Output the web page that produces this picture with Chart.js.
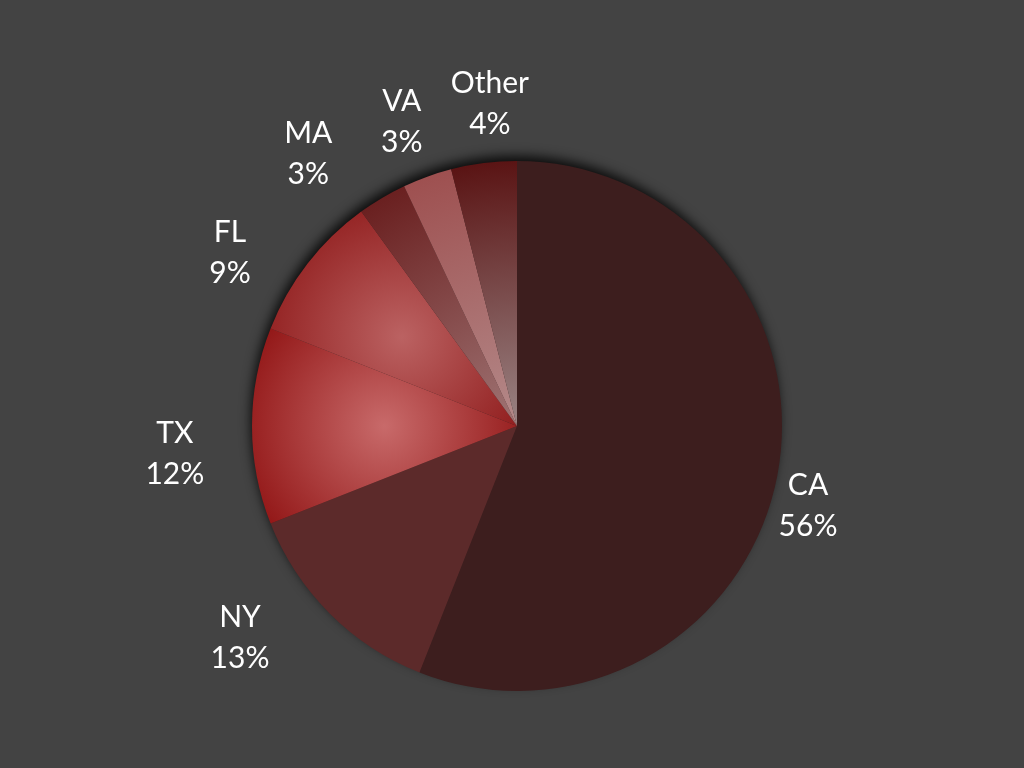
<!DOCTYPE html>
<html>
<head>
<meta charset="utf-8">
<script src="https://cdn.jsdelivr.net/npm/chart.js@4"></script>
<style>
  html, body { margin: 0; padding: 0; background: #434343; }
  #wrap { width: 1024px; height: 768px; }
</style>
</head>
<body>
<div id="wrap"><canvas id="pie" width="1024" height="768"></canvas></div>
<script>
// data
const states = ['CA', 'NY', 'TX', 'FL', 'MA', 'VA', 'Other'];
const shares = [56, 13, 12, 9, 3, 3, 4];

// slice look: outer colour, inner colour (same = flat)
const outerColors = ['#3d1e1e', '#5c2a2a', '#8e1010', '#8c1616', '#6a2020', '#9e5050', '#5a1414'];
const innerColors = ['#3d1e1e', '#5c2a2a', '#c86a6a', '#bb6262', '#a07575', '#b48a8a', '#9a8484'];
// gradient centre along the mid angle (fraction of radius)
const gradCenter = [0, 0, 0.5, 0.55, 0, 0, 0];
// label placement: distance (fraction of radius) and nudge off the mid angle (degrees)
const labelDist = [1.138, 1.314, 1.295, 1.266, 1.297, 1.23, 1.223];
const labelNudge = [4.4, 7.7, -4.5, -6.6, -6.8, -0.9, 2.4];

const shadowPlugin = {
    id: 'shadow',
    beforeDatasetsDraw(chart) {
        const arc = chart.getDatasetMeta(0).data[0];
        if (!arc) return;
        const ctx = chart.ctx;
        ctx.save();
        ctx.shadowColor = 'rgba(0,0,0,0.85)';
        ctx.shadowBlur = 12;
        ctx.shadowOffsetX = -2;
        ctx.shadowOffsetY = -6;
        ctx.fillStyle = '#3a2020';
        ctx.beginPath();
        ctx.arc(arc.x, arc.y, arc.outerRadius - 1, 0, Math.PI * 2);
        ctx.fill();
        ctx.restore();

        // per slice gradients
        chart.getDatasetMeta(0).data.forEach((el, i) => {
            if (outerColors[i] === innerColors[i]) return;
            const mid = (el.startAngle + el.endAngle) / 2;
            const d = gradCenter[i] * el.outerRadius;
            const cx = el.x + Math.cos(mid) * d;
            const cy = el.y + Math.sin(mid) * d;
            const r = gradCenter[i] > 0 ? el.outerRadius * 0.62 : el.outerRadius;
            const g = ctx.createRadialGradient(cx, cy, 0, cx, cy, r);
            g.addColorStop(0, innerColors[i]);
            g.addColorStop(1, outerColors[i]);
            el.options.backgroundColor = g;
        });
    }
};

const labelPlugin = {
    id: 'outLabels',
    afterDatasetsDraw(chart) {
        const ctx = chart.ctx;
        ctx.save();
        ctx.fillStyle = '#ffffff';
        ctx.font = '30px Lato, "Open Sans", sans-serif';
        ctx.textAlign = 'center';
        ctx.textBaseline = 'middle';
        chart.getDatasetMeta(0).data.forEach((el, i) => {
            const mid = (el.startAngle + el.endAngle) / 2 + labelNudge[i] * Math.PI / 180;
            const d = el.outerRadius * labelDist[i];
            const x = el.x + Math.cos(mid) * d;
            const y = el.y + Math.sin(mid) * d;
            ctx.fillText(states[i], x, y - 20);
            ctx.fillText(shares[i] + '%', x, y + 21);
        });
        ctx.restore();
    }
};

const ctx = document.getElementById('pie').getContext('2d');
const pie = new Chart(ctx, {
    type: 'pie',
    data: {
        labels: states,
        datasets: [{
            data: shares,
            backgroundColor: outerColors,
            borderWidth: 0
        }]
    },
    options: {
        responsive: false,
        animation: false,
        layout: {
            padding: { top: 161, bottom: 77, left: 252, right: 242 }
        },
        plugins: {
            legend: { display: false },
            tooltip: { enabled: false }
        }
    },
    plugins: [shadowPlugin, labelPlugin]
});
</script>
</body>
</html>
